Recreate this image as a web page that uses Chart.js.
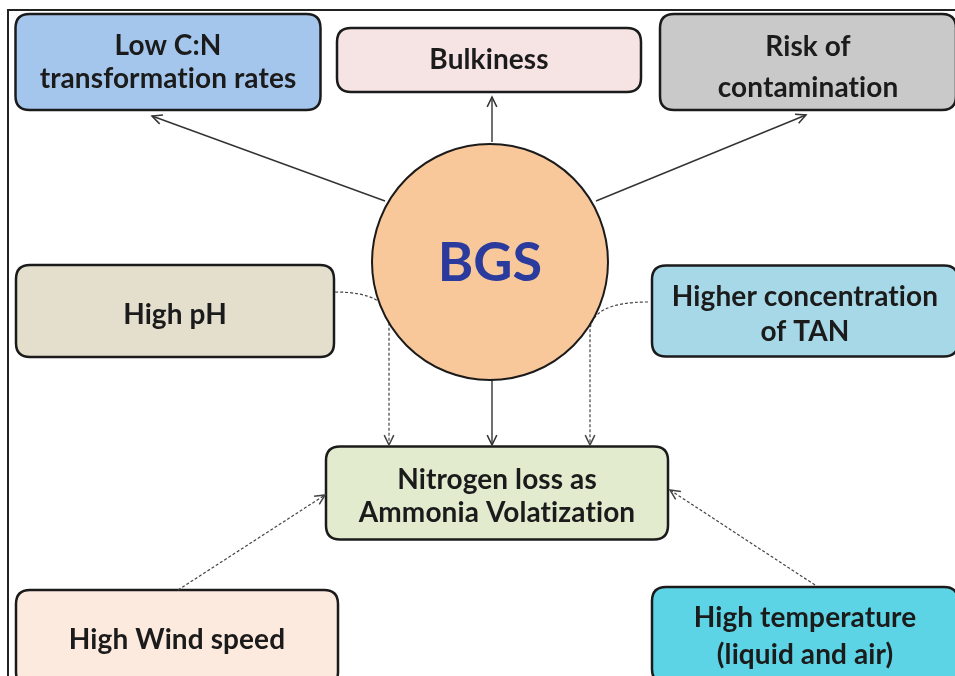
<!DOCTYPE html>
<html>
<head>
<meta charset="utf-8">
<script src="https://cdn.jsdelivr.net/npm/chart.js@4.4.1/dist/chart.umd.min.js"></script>
<style>
	html, body { margin: 0; padding: 0; background: #fff; }
	#wrap { width: 955px; height: 676px; position: relative; }
</style>
</head>
<body>
<div id="wrap"><canvas id="bgs-chart"></canvas></div>
<script>
// node texts
const NODE_LABELS = [
	['Low C:N', 'transformation rates'],
	['Bulkiness'],
	['Risk of', 'contamination'],
	['High pH'],
	['Higher concentration', 'of TAN'],
	['Nitrogen loss as', 'Ammonia Volatization'],
	['High Wind speed'],
	['High temperature', '(liquid and air)'],
];
// node centres (diagram units)
const NODE_X = [168, 489, 808, 175, 805, 497, 177, 805];
const NODE_Y = [62, 60, 62, 311, 311, 493, 638, 635];

const CENTER_LABEL = 'BGS';
const CENTER_X = [490];
const CENTER_Y = [262];

// edges: [from x, from y] ... [to x, to y]
const EDGE_SOLID = [
	[[385, 201], [152, 116]],
	[[492, 142], [492, 97]],
	[[596, 201], [806, 115]],
	[[492, 376], [492, 445]],
];
const EDGE_DASHED = [
	[[178, 590], [325, 495]],
	[[815, 585], [670, 490]],
];
const EDGE_CURVED = [
	[[335, 292], [389, 292], [389, 445]],
	[[648, 302], [590, 302], [590, 445]],
];

const STYLE = {
	box_w: [305, 304, 296, 318, 306, 342, 322, 306],
	box_h: [96, 64, 96, 92, 91, 93, 96, 96],
	box_fill: ['#a5c6ec', '#f6e3e3', '#c9c9c9', '#e4dfcd', '#a7d8e7', '#e3ebcf', '#fdeadf', '#5dd4e6'],
	line_h: [33, 33, 41, 33, 35, 33, 33, 37],
	text_dy: [0, 0, 5, 4, 3, 3, 2, 1],
	font: 'bold 28px Lato',
	ink: '#1b1b1b',
	circle_fill: '#f8c89b',
	circle_r: 118,
	bgs_color: '#2a3a9d',
};

const ctx = document.getElementById('bgs-chart').getContext('2d');

const toPts = (arr) => arr.map((p) => ({ x: p[0], y: p[1] }));

const datasets = [
	{
		label: CENTER_LABEL,
		data: CENTER_X.map((x, i) => ({ x: x, y: CENTER_Y[i] })),
		pointRadius: STYLE.circle_r,
		pointBackgroundColor: STYLE.circle_fill,
		pointBorderColor: '#1b1b1b',
		pointBorderWidth: 2,
		showLine: false,
	},
];
EDGE_SOLID.forEach((e) => {
	datasets.push({
		data: toPts(e),
		showLine: true,
		borderColor: '#333',
		borderWidth: 1.4,
		pointRadius: 0,
		arrow: true,
	});
});
EDGE_DASHED.forEach((e) => {
	datasets.push({
		data: toPts(e),
		showLine: true,
		borderColor: '#444',
		borderWidth: 1.2,
		borderDash: [3, 2],
		pointRadius: 0,
		arrow: true,
	});
});

function roundRect(c, x, y, w, h, r) {
	c.beginPath();
	c.moveTo(x + r, y);
	c.lineTo(x + w - r, y);
	c.quadraticCurveTo(x + w, y, x + w, y + r);
	c.lineTo(x + w, y + h - r);
	c.quadraticCurveTo(x + w, y + h, x + w - r, y + h);
	c.lineTo(x + r, y + h);
	c.quadraticCurveTo(x, y + h, x, y + h - r);
	c.lineTo(x, y + r);
	c.quadraticCurveTo(x, y, x + r, y);
	c.closePath();
}

function arrowHead(c, from, to, color) {
	const a = Math.atan2(to.y - from.y, to.x - from.x);
	const len = 11;
	const spread = 0.45;
	c.save();
	c.setLineDash([]);
	c.strokeStyle = color;
	c.lineWidth = 1.5;
	c.beginPath();
	c.moveTo(to.x - len * Math.cos(a - spread), to.y - len * Math.sin(a - spread));
	c.lineTo(to.x, to.y);
	c.lineTo(to.x - len * Math.cos(a + spread), to.y - len * Math.sin(a + spread));
	c.stroke();
	c.restore();
}

const diagramPlugin = {
	id: 'diagram',
	beforeDatasetsDraw(chart) {
		const c = chart.ctx;
		const xs = chart.scales.x;
		const ys = chart.scales.y;
		c.save();
		c.fillStyle = '#fff';
		c.fillRect(0, 0, chart.width, chart.height);
		// outer frame
		c.strokeStyle = '#222';
		c.lineWidth = 2;
		c.strokeRect(xs.getPixelForValue(8), ys.getPixelForValue(10), 1000, 700);

		// boxes
		NODE_LABELS.forEach((lines, i) => {
			const cx = xs.getPixelForValue(NODE_X[i]);
			const cy = ys.getPixelForValue(NODE_Y[i]);
			const w = STYLE.box_w[i];
			const h = STYLE.box_h[i];
			roundRect(c, cx - w / 2, cy - h / 2, w, h, 14);
			c.fillStyle = STYLE.box_fill[i];
			c.fill();
			c.lineWidth = 2.5;
			c.strokeStyle = '#1b1b1b';
			c.stroke();
			c.fillStyle = STYLE.ink;
			c.font = STYLE.font;
			c.letterSpacing = '0.1px'; // no "ti" ligature
			c.textAlign = 'center';
			c.textBaseline = 'middle';
			const lh = STYLE.line_h[i];
			const top = cy + STYLE.text_dy[i] - (lh * (lines.length - 1)) / 2;
			lines.forEach((t, k) => c.fillText(t, cx, top + k * lh));
		});

		// curved dashed edges
		c.strokeStyle = '#444';
		c.lineWidth = 1.2;
		c.setLineDash([3, 2]);
		EDGE_CURVED.forEach((e) => {
			const p = e.map((q) => ({ x: xs.getPixelForValue(q[0]), y: ys.getPixelForValue(q[1]) }));
			c.beginPath();
			c.moveTo(p[0].x, p[0].y);
			c.quadraticCurveTo(p[1].x, p[1].y, p[1].x, p[1].y + 30);
			c.lineTo(p[2].x, p[2].y);
			c.stroke();
			arrowHead(c, { x: p[2].x, y: p[2].y - 20 }, p[2], '#444');
		});
		c.restore();
	},
	afterDatasetsDraw(chart) {
		const c = chart.ctx;
		chart.data.datasets.forEach((ds, i) => {
			if (!ds.arrow) return;
			const pts = chart.getDatasetMeta(i).data;
			const n = pts.length;
			arrowHead(c, pts[n - 2], pts[n - 1], ds.borderColor);
		});
		const xs = chart.scales.x;
		const ys = chart.scales.y;
		c.save();
		c.fillStyle = STYLE.bgs_color;
		c.font = 'bold 54px Lato';
		c.textAlign = 'center';
		c.textBaseline = 'middle';
		c.fillText(CENTER_LABEL, xs.getPixelForValue(CENTER_X[0]), ys.getPixelForValue(CENTER_Y[0]) + 2);
		c.restore();
	},
};

new Chart(ctx, {
	type: 'scatter',
	data: { datasets: datasets },
	options: {
		responsive: true,
		maintainAspectRatio: false,
		animation: false,
		layout: { padding: 0, autoPadding: false },
		scales: {
			x: { type: 'linear', min: 0, max: 955, display: false },
			y: { type: 'linear', min: 0, max: 676, reverse: true, display: false },
		},
		plugins: {
			legend: { display: false },
			tooltip: { enabled: false },
		},
		events: [],
	},
	plugins: [diagramPlugin],
});
</script>
</body>
</html>
